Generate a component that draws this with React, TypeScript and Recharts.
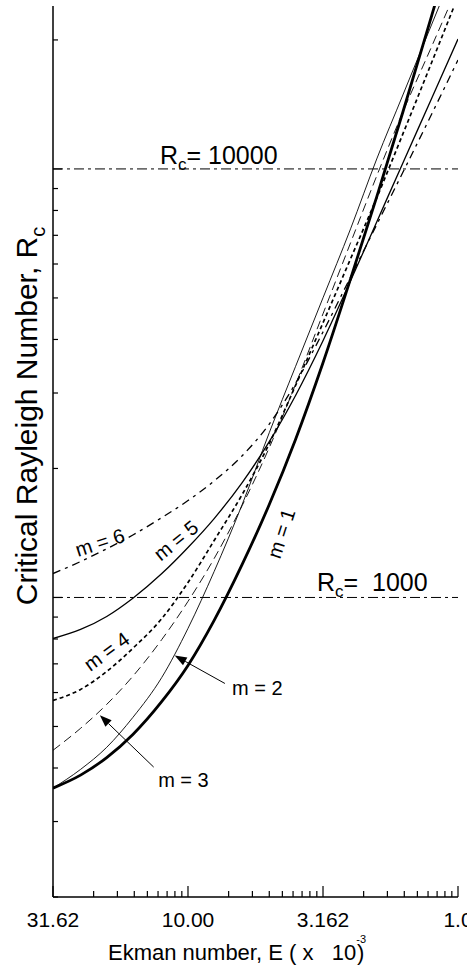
import {
  LineChart,
  Line,
  XAxis,
  YAxis,
  ReferenceLine,
  ReferenceDot,
} from "recharts";

const FONT = "'Liberation Sans', Arial, Helvetica, sans-serif";

// Ekman number (x 10^-3), sample points
const ekman = [31.62, 25, 20, 16, 12.5, 10, 8, 6.3, 5, 4, 3.162, 2.5, 2, 1.6, 1.25, 1.0];

// critical Rayleigh number for each azimuthal mode m
const rcM1 = [359, 385, 423, 479, 572, 694, 884, 1194, 1648, 2335, 3530, 5540, 8604, 13580, 22860, 36640];
const rcM2 = [359, 397, 447, 525, 651, 847, 1150, 1648, 2424, 3455, 5004, 7247, 10550, 14880, 21780, 30700];
const rcM3 = [440, 495, 563, 655, 798, 979, 1233, 1639, 2237, 3137, 4592, 6722, 9632, 13580, 19350, 26710];
const rcM4 = [575, 610, 672, 761, 893, 1084, 1358, 1739, 2286, 3120, 4375, 6170, 8560, 12070, 17760, 25240];
const rcM5 = [802, 842, 903, 996, 1137, 1308, 1528, 1854, 2310, 2957, 3973, 5482, 7523, 10330, 14640, 20090];
const rcM6 = [1137, 1213, 1299, 1399, 1536, 1683, 1870, 2141, 2539, 3157, 4165, 5594, 7413, 9819, 13450, 17960];

const xMajorTicks = [31.62, 10, 3.162, 1];
const xTickLabels = ["31.62", "10.00", "3.162", "1.0"];
const xMinorTicks = [
  22.36, 18.26, 15.81, 14.14, 12.91, 11.95, 11.18, 10.54,
  7.071, 5.774, 5.0, 4.472, 4.082, 3.78, 3.536, 3.333,
  2.236, 1.826, 1.581, 1.414, 1.291, 1.195, 1.118, 1.054,
];
const yMajorTicks = [1000, 10000];
const yMinorTicks = [
  200, 300, 400, 500, 600, 700, 800, 900,
  2000, 3000, 4000, 5000, 6000, 7000, 8000, 9000, 20000,
];

const rcLevels = [10000, 1000];
const rcLevelText = ["= 10000", "=  1000"];

const data = ekman.map((E, i) => ({
  E,
  m1: rcM1[i],
  m2: rcM2[i],
  m3: rcM3[i],
  m4: rcM4[i],
  m5: rcM5[i],
  m6: rcM6[i],
}));

const series = [
  { key: "m1", width: 2.8, dash: undefined },
  { key: "m2", width: 0.9, dash: undefined },
  { key: "m3", width: 0.9, dash: "9 5" },
  { key: "m4", width: 1.7, dash: "4 3" },
  { key: "m5", width: 1.3, dash: undefined },
  { key: "m6", width: 1.3, dash: "8 5 3 5" },
];

// rotated curve labels, placed in data coordinates
const curveLabels = [
  { text: "m = 6", E: 21.2, rc: 1344, angle: -18 },
  { text: "m = 5", E: 11.08, rc: 1358, angle: -39 },
  { text: "m = 4", E: 20.0, rc: 748, angle: -36 },
  { text: "m = 1", E: 4.52, rc: 1410, angle: -72 },
];

const arrowLabels = [
  { text: "m = 2", E: 6.87, rc: 591, tail: [7.3, 630], tip: [11.2, 732] },
  { text: "m = 3", E: 12.9, rc: 361, tail: [13.4, 402], tip: [21.2, 531] },
];

const rcLabelPos = [
  { E: 12.7, rc: 10270 },
  { E: 3.33, rc: 1038 },
];

const isMajor = (v: number, majors: number[]) => majors.indexOf(v) >= 0;

const BottomTick = (props: any) => {
  const { x, y, payload } = props;
  const i = xMajorTicks.indexOf(payload.value);
  const major = i >= 0;
  return (
    <g>
      <line x1={x} y1={y} x2={x} y2={y - (major ? 11 : 6)} stroke="#000" strokeWidth={1.2} />
      {major && (
        <text x={x} y={y + 30} textAnchor="middle" fontSize={21} fontFamily={FONT} fill="#000">
          {xTickLabels[i]}
        </text>
      )}
    </g>
  );
};

const TopTick = (props: any) => {
  const { x, y, payload } = props;
  const major = isMajor(payload.value, xMajorTicks);
  return <line x1={x} y1={y} x2={x} y2={y + (major ? 11 : 6)} stroke="#000" strokeWidth={1.2} />;
};

const LeftTick = (props: any) => {
  const { x, y, payload } = props;
  const major = isMajor(payload.value, yMajorTicks);
  return <line x1={x} y1={y} x2={x + (major ? 9 : 5)} y2={y} stroke="#000" strokeWidth={1.2} />;
};

const RightTick = (props: any) => {
  const { x, y, payload } = props;
  const major = isMajor(payload.value, yMajorTicks);
  return <line x1={x} y1={y} x2={x - (major ? 9 : 5)} y2={y} stroke="#000" strokeWidth={1.2} />;
};

const Arrow = (p: any) => {
  const { x1, y1, x2, y2 } = p;
  const ang = Math.atan2(y2 - y1, x2 - x1);
  const len = 12;
  const half = 4.5;
  const bx = x2 - len * Math.cos(ang);
  const by = y2 - len * Math.sin(ang);
  const px = -Math.sin(ang) * half;
  const py = Math.cos(ang) * half;
  return (
    <g>
      <line x1={x1} y1={y1} x2={bx} y2={by} stroke="#000" strokeWidth={1} />
      <polygon points={`${x2},${y2} ${bx + px},${by + py} ${bx - px},${by - py}`} fill="#000" />
    </g>
  );
};

const YTitle = () => (
  <text
    transform="translate(37,416) rotate(-90)"
    textAnchor="middle"
    fontSize={30}
    fontFamily={FONT}
    fill="#000"
  >
    Critical Rayleigh Number, R
    <tspan fontSize={20} dy={8}>c</tspan>
  </text>
);

const XTitle = () => (
  <text x={108} y={960} fontSize={22} fontFamily={FONT} fill="#000" xmlSpace="preserve" style={{ whiteSpace: "pre" }}>
    {"Ekman number, E ( x   10"}
    <tspan fontSize={11} dy={-17}>-3</tspan>
    <tspan dx={-9} dy={17}>)</tspan>
  </text>
);

export default function App() {
  return (
    <div style={{ position: "absolute", left: 0, top: 0, background: "#fff" }}>
      <LineChart
        width={467}
        height={972}
        data={data}
        margin={{ top: 6, right: 9, bottom: 0, left: 0 }}
      >
        <XAxis
          dataKey="E"
          type="number"
          scale="log"
          domain={[1, 31.62]}
          reversed
          allowDataOverflow
          ticks={[...xMajorTicks, ...xMinorTicks]}
          interval={0}
          tickSize={0}
          tickMargin={0}
          tickLine={false}
          tick={<BottomTick />}
          height={75}
          axisLine={{ stroke: "#000", strokeWidth: 1.5 }}
          label={{ content: () => <XTitle /> }}
        />
        <XAxis
          xAxisId="top"
          orientation="top"
          dataKey="E"
          type="number"
          scale="log"
          domain={[1, 31.62]}
          reversed
          allowDataOverflow
          ticks={[...xMajorTicks, ...xMinorTicks]}
          interval={0}
          tickSize={0}
          tickMargin={0}
          tickLine={false}
          tick={<TopTick />}
          height={0}
          axisLine={{ stroke: "#000", strokeWidth: 1.5 }}
        />
        <YAxis
          type="number"
          scale="log"
          domain={[200, 24000]}
          allowDataOverflow
          ticks={[...yMajorTicks, ...yMinorTicks]}
          interval={0}
          tickSize={0}
          tickMargin={0}
          tickLine={false}
          tick={<LeftTick />}
          width={53}
          axisLine={{ stroke: "#000", strokeWidth: 1.5 }}
          label={{ content: () => <YTitle /> }}
        />
        <YAxis
          yAxisId="right"
          orientation="right"
          type="number"
          scale="log"
          domain={[200, 24000]}
          allowDataOverflow
          ticks={[...yMajorTicks, ...yMinorTicks]}
          interval={0}
          tickSize={0}
          tickMargin={0}
          tickLine={false}
          tick={<RightTick />}
          width={0}
          axisLine={{ stroke: "#000", strokeWidth: 1.5 }}
        />

        {rcLevels.map((rc) => (
          <ReferenceLine
            key={rc}
            y={rc}
            stroke="#000"
            strokeWidth={1}
            strokeDasharray="10 4 3 4"
          />
        ))}

        {series.map((s) => (
          <Line
            key={s.key}
            dataKey={s.key}
            type="monotone"
            stroke="#000"
            strokeWidth={s.width}
            strokeDasharray={s.dash}
            dot={false}
            activeDot={false}
            isAnimationActive={false}
          />
        ))}

        {rcLabelPos.map((p, i) => (
          <ReferenceDot
            key={`rc-${i}`}
            x={p.E}
            y={p.rc}
            r={0}
            ifOverflow="visible"
            shape={(d: any) => (
              <text
                x={d.cx}
                y={d.cy}
                fontSize={25}
                fontFamily={FONT}
                fill="#000"
                xmlSpace="preserve"
                style={{ whiteSpace: "pre" }}
              >
                R
                <tspan fontSize={17} dy={6}>c</tspan>
                <tspan dy={-6}>{rcLevelText[i]}</tspan>
              </text>
            )}
          />
        ))}

        {curveLabels.map((c) => (
          <ReferenceDot
            key={c.text}
            x={c.E}
            y={c.rc}
            r={0}
            ifOverflow="visible"
            shape={(d: any) => (
              <text
                x={d.cx}
                y={d.cy}
                transform={`rotate(${c.angle} ${d.cx} ${d.cy})`}
                textAnchor="middle"
                dominantBaseline="central"
                fontSize={20}
                fontFamily={FONT}
                fill="#000"
              >
                {c.text}
              </text>
            )}
          />
        ))}

        {arrowLabels.map((a) => (
          <ReferenceLine
            key={`arrow-${a.text}`}
            segment={[
              { x: a.tail[0], y: a.tail[1] },
              { x: a.tip[0], y: a.tip[1] },
            ]}
            ifOverflow="visible"
            shape={Arrow}
          />
        ))}

        {arrowLabels.map((a) => (
          <ReferenceDot
            key={a.text}
            x={a.E}
            y={a.rc}
            r={0}
            ifOverflow="visible"
            shape={(d: any) => (
              <text x={d.cx} y={d.cy} fontSize={20} fontFamily={FONT} fill="#000">
                {a.text}
              </text>
            )}
          />
        ))}
      </LineChart>
    </div>
  );
}
